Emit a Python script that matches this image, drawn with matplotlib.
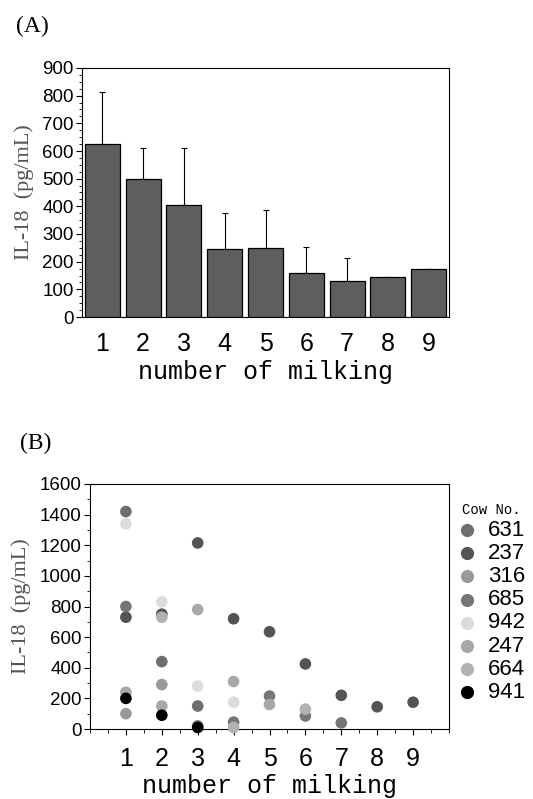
import numpy as np
import matplotlib
matplotlib.use('Agg')
import matplotlib.pyplot as plt
from matplotlib.ticker import MultipleLocator

sans = 'Liberation Sans'
mono = 'Liberation Mono'
serif = 'Liberation Serif'
plt.rc('font', family=sans)

# ---- panel A data ----
milking = [1, 2, 3, 4, 5, 6, 7, 8, 9]
mean_il18 = [625, 500, 405, 245, 250, 158, 130, 145, 175]
upper_il18 = [815, 610, 610, 375, 385, 253, 215, 145, 175]

# ---- panel B data (milking number, IL-18) per cow ----
cows = ['631', '237', '316', '685', '942', '247', '664', '941']
cow_colors = ['#6e6e6e', '#545454', '#9a9a9a', '#767676', '#dcdcdc', '#a8a8a8', '#b2b2b2', '#000000']
cow_x = [
    [1, 2, 3],
    [1, 2, 3, 4, 5, 6, 7, 8, 9],
    [1, 2],
    [1, 3, 4, 5, 6, 7],
    [1, 2, 3, 4],
    [1, 2, 3, 4, 5],
    [2, 4, 6],
    [1, 2, 3],
]
cow_y = [
    [1420, 440, 150],
    [730, 750, 1215, 720, 635, 425, 220, 145, 175],
    [100, 290],
    [800, 20, 45, 215, 85, 40],
    [1340, 830, 280, 175],
    [240, 150, 780, 310, 160],
    [730, 10, 130],
    [200, 90, 10],
]

fig = plt.figure(figsize=(5.33, 7.99), dpi=100)
W, H = 533, 799

def px_axes(l, t, r, b):
    return fig.add_axes([l / W, 1 - b / H, (r - l) / W, (b - t) / H])

# ================= (A) =================
ax = px_axes(82, 68, 449, 317)
err_up = np.array(upper_il18) - np.array(mean_il18)
ax.errorbar(milking, mean_il18, yerr=[np.zeros(len(milking)), err_up], fmt='none',
            ecolor='black', elinewidth=0.8, capsize=2, capthick=0.8, zorder=1)
ax.bar(milking, mean_il18, width=0.86, color='#5e5e5e', edgecolor='black', linewidth=0.9, zorder=2)
ax.set_xlim(0.5, 9.5)
ax.set_ylim(0, 900)
ax.yaxis.set_major_locator(MultipleLocator(100))
ax.yaxis.set_minor_locator(MultipleLocator(25))
ax.set_xticks(milking)
ax.tick_params(axis='x', length=0, pad=11, labelsize=18)
ax.tick_params(axis='y', which='major', length=4, direction='out', labelsize=13.5, pad=2)
ax.tick_params(axis='y', which='minor', length=2, direction='out')
ax.set_xlabel('number of milking', fontsize=18, family=mono, labelpad=3)
ax.set_ylabel('IL-18  (pg/mL)', fontsize=16, family=serif, color='#555555', labelpad=6)
fig.text(16 / W, 1 - 32 / H, '(A)', fontsize=17, family=serif)

# ================= (B) =================
bx = px_axes(90, 484, 449, 729)
for c, col, xs, ys in zip(cows, cow_colors, cow_x, cow_y):
    bx.scatter(xs, ys, s=70, color=col, edgecolors='none', zorder=3, clip_on=False)
bx.set_xlim(0, 10)
bx.set_ylim(0, 1600)
bx.set_xticks(milking)
bx.xaxis.set_minor_locator(MultipleLocator(0.5))
bx.yaxis.set_major_locator(MultipleLocator(200))
bx.yaxis.set_minor_locator(MultipleLocator(100))
bx.tick_params(axis='x', which='major', length=4, direction='out', pad=9, labelsize=18)
bx.tick_params(axis='x', which='minor', length=3, direction='out')
bx.tick_params(axis='y', which='major', length=4, direction='out', labelsize=13.5, pad=2)
bx.tick_params(axis='y', which='minor', length=2, direction='out')
bx.set_xlabel('number of milking', fontsize=18, family=mono, labelpad=2)
bx.set_ylabel('IL-18  (pg/mL)', fontsize=16, family=serif, color='#555555', labelpad=6)
fig.text(20 / W, 1 - 449 / H, '(B)', fontsize=17, family=serif)

# legend drawn by hand to get the tight row spacing
fig.text(462 / W, 1 - 514 / H, 'Cow No.', fontsize=10, family=mono, va='baseline')
for i, (c, col) in enumerate(zip(cows, cow_colors)):
    yy = 1 - (530 + i * 23.2) / H
    fig.add_artist(plt.Line2D([467 / W], [yy], marker='o', markersize=9.5, color=col,
                              markeredgewidth=0, transform=fig.transFigure))
    fig.text(488 / W, yy, c, fontsize=16, va='center', ha='left')

fig.savefig('out.png', dpi=100)
